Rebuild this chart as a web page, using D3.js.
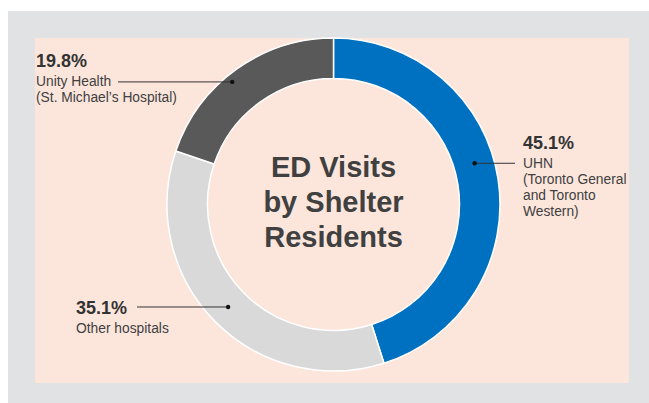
<!DOCTYPE html>
<html>
<head>
<meta charset="utf-8">
<script src="https://cdn.jsdelivr.net/npm/d3@7"></script>
<style>
  body { margin: 0; background: #fff; }
  text { font-family: "Liberation Sans", Arial, sans-serif; }
</style>
</head>
<body>
<svg id="chart"></svg>
<script>
// data
var hospitals = ["UHN", "Other hospitals", "Unity Health"];
var shares = [45.1, 35.1, 19.8];
var shareLabels = ["45.1%", "35.1%", "19.8%"];
var subLabels = [
  ["UHN", "(Toronto General", "and Toronto", "Western)"],
  ["Other hospitals"],
  ["Unity Health", "(St. Michael\u2019s Hospital)"]
];
var colours = ["#0070c0", "#d9d9d9", "#595959"];
var titleLines = ["ED Visits", "by Shelter", "Residents"];

var svg = d3.select("#chart")
  .attr("width", 649)
  .attr("height", 403);

svg.append("rect")
  .attr("x", 8).attr("y", 11)
  .attr("width", 641).attr("height", 392)
  .attr("fill", "#e1e2e4");

svg.append("rect")
  .attr("x", 35).attr("y", 38)
  .attr("width", 594).attr("height", 345)
  .attr("fill", "#fce6dc");

var cx = 333.5, cy = 204.5;
var g = svg.append("g").attr("transform", "translate(" + cx + "," + cy + ")");

var pie = d3.pie().sort(null).value(function(d) { return d; });
var arcs = pie(shares);

var arc = d3.arc().innerRadius(126).outerRadius(166.5);

g.selectAll("path.slice")
  .data(arcs)
  .enter().append("path")
  .attr("class", "slice")
  .attr("d", arc)
  .attr("fill", function(d, i) { return colours[i]; })
  .attr("stroke", "#ffffff")
  .attr("stroke-width", 1.5);

// centre title
g.selectAll("text.title")
  .data(titleLines)
  .enter().append("text")
  .attr("class", "title")
  .attr("x", 0)
  .attr("y", function(d, i) { return -28 + i * 35.3; })
  .attr("text-anchor", "middle")
  .attr("font-size", 29)
  .attr("font-weight", "bold")
  .attr("fill", "#404040")
  .text(function(d) { return d; });

// annotations: where in each slice the dot sits, and where the text block goes
var notes = [
  { t: 0.454, r: 147, x: 523, y: 149, lineTo: 515 },
  { t: 0.502, r: 147, x: 76, y: 314, lineTo: 137 },
  { t: 0.445, r: 159, x: 36, y: 67, lineTo: 118 }
];

arcs.forEach(function(a, i) {
  var n = notes[i];
  var ang = a.startAngle + (a.endAngle - a.startAngle) * n.t;
  var dx = cx + n.r * Math.sin(ang);
  var dy = cy - n.r * Math.cos(ang);

  svg.append("line")
    .attr("x1", n.lineTo).attr("x2", dx)
    .attr("y1", dy).attr("y2", dy)
    .attr("stroke", "#333333")
    .attr("stroke-width", 1);

  svg.append("circle")
    .attr("cx", dx).attr("cy", dy)
    .attr("r", 2.2)
    .attr("fill", "#111111");

  svg.append("text")
    .attr("x", n.x).attr("y", n.y)
    .attr("font-size", 18)
    .attr("font-weight", "bold")
    .attr("fill", "#333333")
    .text(shareLabels[i]);

  subLabels[i].forEach(function(s, j) {
    svg.append("text")
      .attr("x", n.x)
      .attr("y", n.y + 18.5 + j * 16)
      .attr("font-size", 13.8)
      .attr("fill", "#404040")
      .text(s);
  });
});
</script>
</body>
</html>
